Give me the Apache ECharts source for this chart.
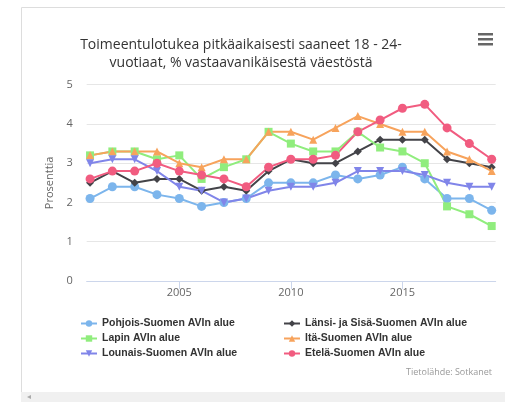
<!DOCTYPE html>
<html>
<head>
<meta charset="utf-8">
<script src="https://cdn.jsdelivr.net/npm/echarts@6/dist/echarts.min.js"></script>
<style>
    html, body { margin: 0; padding: 0; background: #fff; }
    #chart { width: 505px; height: 402px; }
</style>
</head>
<body>
<div id="chart"></div>
<script>
const years = [2001, 2002, 2003, 2004, 2005, 2006, 2007, 2008, 2009, 2010,
    2011, 2012, 2013, 2014, 2015, 2016, 2017, 2018, 2019]
const yearLabels = [2005, 2010, 2015]
const yTicks = [0, 1, 2, 3, 4, 5]

const pohjois = [2.1, 2.4, 2.4, 2.2, 2.1, 1.9, 2.0, 2.1, 2.5, 2.5, 2.5, 2.7, 2.6, 2.7, 2.9, 2.6, 2.1, 2.1, 1.8]
const lansi = [2.5, 2.8, 2.5, 2.6, 2.6, 2.3, 2.4, 2.3, 2.8, 3.1, 3.0, 3.0, 3.3, 3.6, 3.6, 3.6, 3.1, 3.0, 2.9]
const lappi = [3.2, 3.3, 3.3, 3.1, 3.2, 2.6, 2.9, 3.1, 3.8, 3.5, 3.3, 3.3, 3.8, 3.4, 3.3, 3.0, 1.9, 1.7, 1.4]
const ita = [3.2, 3.3, 3.3, 3.3, 3.0, 2.9, 3.1, 3.1, 3.8, 3.8, 3.6, 3.9, 4.2, 4.0, 3.8, 3.8, 3.3, 3.1, 2.8]
const lounais = [3.0, 3.1, 3.1, 2.8, 2.4, 2.3, 2.0, 2.1, 2.3, 2.4, 2.4, 2.5, 2.8, 2.8, 2.8, 2.7, 2.5, 2.4, 2.4]
const etela = [2.6, 2.8, 2.8, 3.0, 2.8, 2.7, 2.6, 2.4, 2.9, 3.1, 3.1, 3.2, 3.8, 4.1, 4.4, 4.5, 3.9, 3.5, 3.1]

const seriesList = [
    { name: 'Pohjois-Suomen AVIn alue', data: pohjois, color: '#7cb5ec', symbol: 'circle' },
    { name: 'Länsi- ja Sisä-Suomen AVIn alue', data: lansi, color: '#434348', symbol: 'diamond' },
    { name: 'Lapin AVIn alue', data: lappi, color: '#90ed7d', symbol: 'rect' },
    { name: 'Itä-Suomen AVIn alue', data: ita, color: '#f7a35c', symbol: 'triangle' },
    { name: 'Lounais-Suomen AVIn alue', data: lounais, color: '#8085e9', symbol: 'path://M0,0 L10,0 L5,9 Z' },
    { name: 'Etelä-Suomen AVIn alue', data: etela, color: '#f15c80', symbol: 'circle' },
]

const font = '"Open Sans", "Liberation Sans", sans-serif'
const legendFont = '"Liberation Sans", Arial, sans-serif'

const chart = echarts.init(document.querySelector('#chart'))

const legendBase = {
    orient: 'vertical',
    top: 311,
    itemWidth: 16,
    itemHeight: 8,
    itemGap: 0,
    textStyle: { fontFamily: legendFont, fontSize: 10.5, fontWeight: 'bold', color: '#333', lineHeight: 15 }
}

const option = {
    animation: false,
    textStyle: { fontFamily: font },
    title: [
        {
            text: 'Toimeentulotukea pitkäaikaisesti saaneet 18 - 24-\nvuotiaat, % vastaavanikäisestä väestöstä',
            left: 236,
            top: 31,
            textAlign: 'center',
            textStyle: { fontFamily: font, fontSize: 14, fontWeight: 'normal', color: '#333', lineHeight: 18 }
        },
        {
            text: 'Tietolähde: Sotkanet',
            right: 8,
            top: 363,
            textStyle: { fontFamily: font, fontSize: 9, fontWeight: 'normal', color: '#999' }
        }
    ],
    legend: [
        { ...legendBase, left: 75, data: [seriesList[0].name, seriesList[2].name, seriesList[4].name] },
        { ...legendBase, left: 278, data: [seriesList[1].name, seriesList[3].name, seriesList[5].name] }
    ],
    grid: { left: 86.7, right: 9.3, top: 84.7, bottom: 121 },
    xAxis: {
        type: 'value',
        min: 2000.85,
        max: 2019.18,
        axisLine: { lineStyle: { color: '#ccd6eb' } },
        axisTick: { show: true, length: 8, customValues: yearLabels, lineStyle: { color: '#ccd6eb' } },
        axisLabel: { customValues: yearLabels, formatter: v => String(v), color: '#666', fontSize: 11, margin: 6 },
        splitLine: { show: false }
    },
    yAxis: {
        type: 'value',
        min: yTicks[0],
        max: yTicks[yTicks.length - 1],
        interval: 1,
        name: 'Prosenttia',
        nameLocation: 'middle',
        nameGap: 24,
        nameTextStyle: { color: '#666', fontSize: 11 },
        axisLine: { show: false },
        axisTick: { show: false },
        axisLabel: { color: '#666', fontSize: 11, margin: 14 },
        splitLine: { lineStyle: { color: '#e6e6e6' } }
    },
    series: seriesList.map(s => ({
        name: s.name,
        type: 'line',
        data: s.data.map((v, i) => [years[i], v]),
        symbol: s.symbol,
        symbolSize: s.symbol === 'circle' ? 9 : 8,
        showAllSymbol: true,
        color: s.color,
        lineStyle: { width: 2 },
        itemStyle: { color: s.color }
    })),
    graphic: [
        // frame round the chart
        { type: 'line', shape: { x1: 21.5, y1: 7.5, x2: 505, y2: 7.5 }, style: { stroke: '#ddd', lineWidth: 1 } },
        { type: 'line', shape: { x1: 21.5, y1: 7.5, x2: 21.5, y2: 392 }, style: { stroke: '#ddd', lineWidth: 1 } },
        { type: 'rect', shape: { x: 21, y: 392, width: 484, height: 10 }, style: { fill: '#f0f0f0' } },
        { type: 'text', left: 27, top: 393, style: { text: '◂', fill: '#aaa', fontSize: 8 } },
        // menu button
        { type: 'rect', shape: { x: 478, y: 33, width: 15, height: 2.5 }, style: { fill: '#666' } },
        { type: 'rect', shape: { x: 478, y: 38, width: 15, height: 2.5 }, style: { fill: '#666' } },
        { type: 'rect', shape: { x: 478, y: 43, width: 15, height: 2.5 }, style: { fill: '#666' } }
    ]
}

chart.setOption(option)
</script>
</body>
</html>
